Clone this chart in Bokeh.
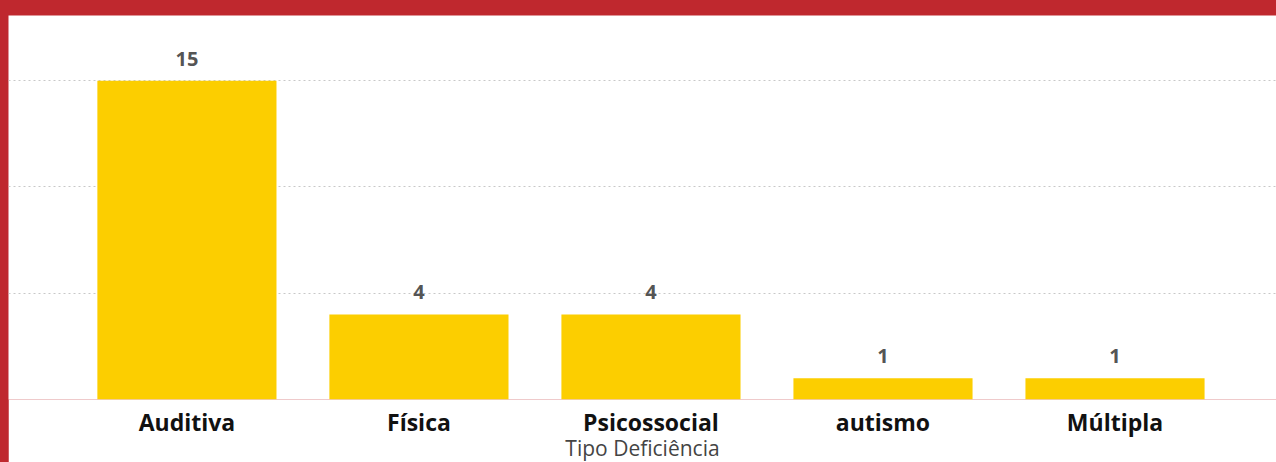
from bokeh.plotting import figure
from bokeh.models import Range1d, FixedTicker, ColumnDataSource
from bokeh.embed import file_html
from bokeh.resources import INLINE
from bokeh.core.properties import value

categories = ["Auditiva", "Física", "Psicossocial", "autismo", "Múltipla"]
counts = [15, 4, 4, 1, 1]
grid_values = [0, 5, 10, 15]
x_title = "Tipo Deficiência"

positions = list(range(len(categories)))
src = ColumnDataSource(dict(x=positions, y=counts, label=[str(c) for c in counts]))

p = figure(width=1268, height=449, output_backend="svg", toolbar_location=None,
           x_range=Range1d(-0.769, 4.696), y_range=Range1d(0, 18.07),
           min_border_left=0, min_border_right=0, min_border_top=0, min_border_bottom=60)
p.outline_line_color = None
p.background_fill_color = "white"
p.border_fill_color = "white"

p.vbar(x="x", top="y", bottom=0, width=0.772, source=src,
       fill_color="#FCCE00", line_color=None)

p.text(x="x", y="y", text="label", source=src, text_align="center",
       text_baseline="middle", y_offset=-22, text_font=value("Open Sans"),
       text_font_style="bold", text_font_size="20px", text_color="#555555")

p.yaxis.visible = False
p.xgrid.visible = False
p.ygrid.ticker = FixedTicker(ticks=grid_values)
p.ygrid.grid_line_color = "#c8c8c8"
p.ygrid.grid_line_dash = "2 3"
p.ygrid.grid_line_width = 1

ax = p.xaxis[0]
ax.ticker = FixedTicker(ticks=positions)
ax.major_label_overrides = {i: c for i, c in zip(positions, categories)}
ax.axis_line_color = None
ax.major_tick_line_color = None
ax.minor_tick_line_color = None
ax.major_label_standoff = 0
ax.major_label_text_font = "Open Sans"
ax.major_label_text_font_style = "bold"
ax.major_label_text_font_size = "23px"
ax.major_label_text_color = "#111111"
ax.axis_label = x_title
ax.axis_label_standoff = -7
ax.axis_label_text_font = "Open Sans"
ax.axis_label_text_font_style = "normal"
ax.axis_label_text_font_size = "21px"
ax.axis_label_text_color = "#444444"

html = file_html(p, INLINE)
style = ("<style>html,body{margin:0 !important;background:#BF282E;overflow:hidden;}"
         "body{padding:15px 0 0 8px !important;}</style>")
html = html.replace("</head>", style + "</head>", 1)
open("out.html", "w").write(html)
